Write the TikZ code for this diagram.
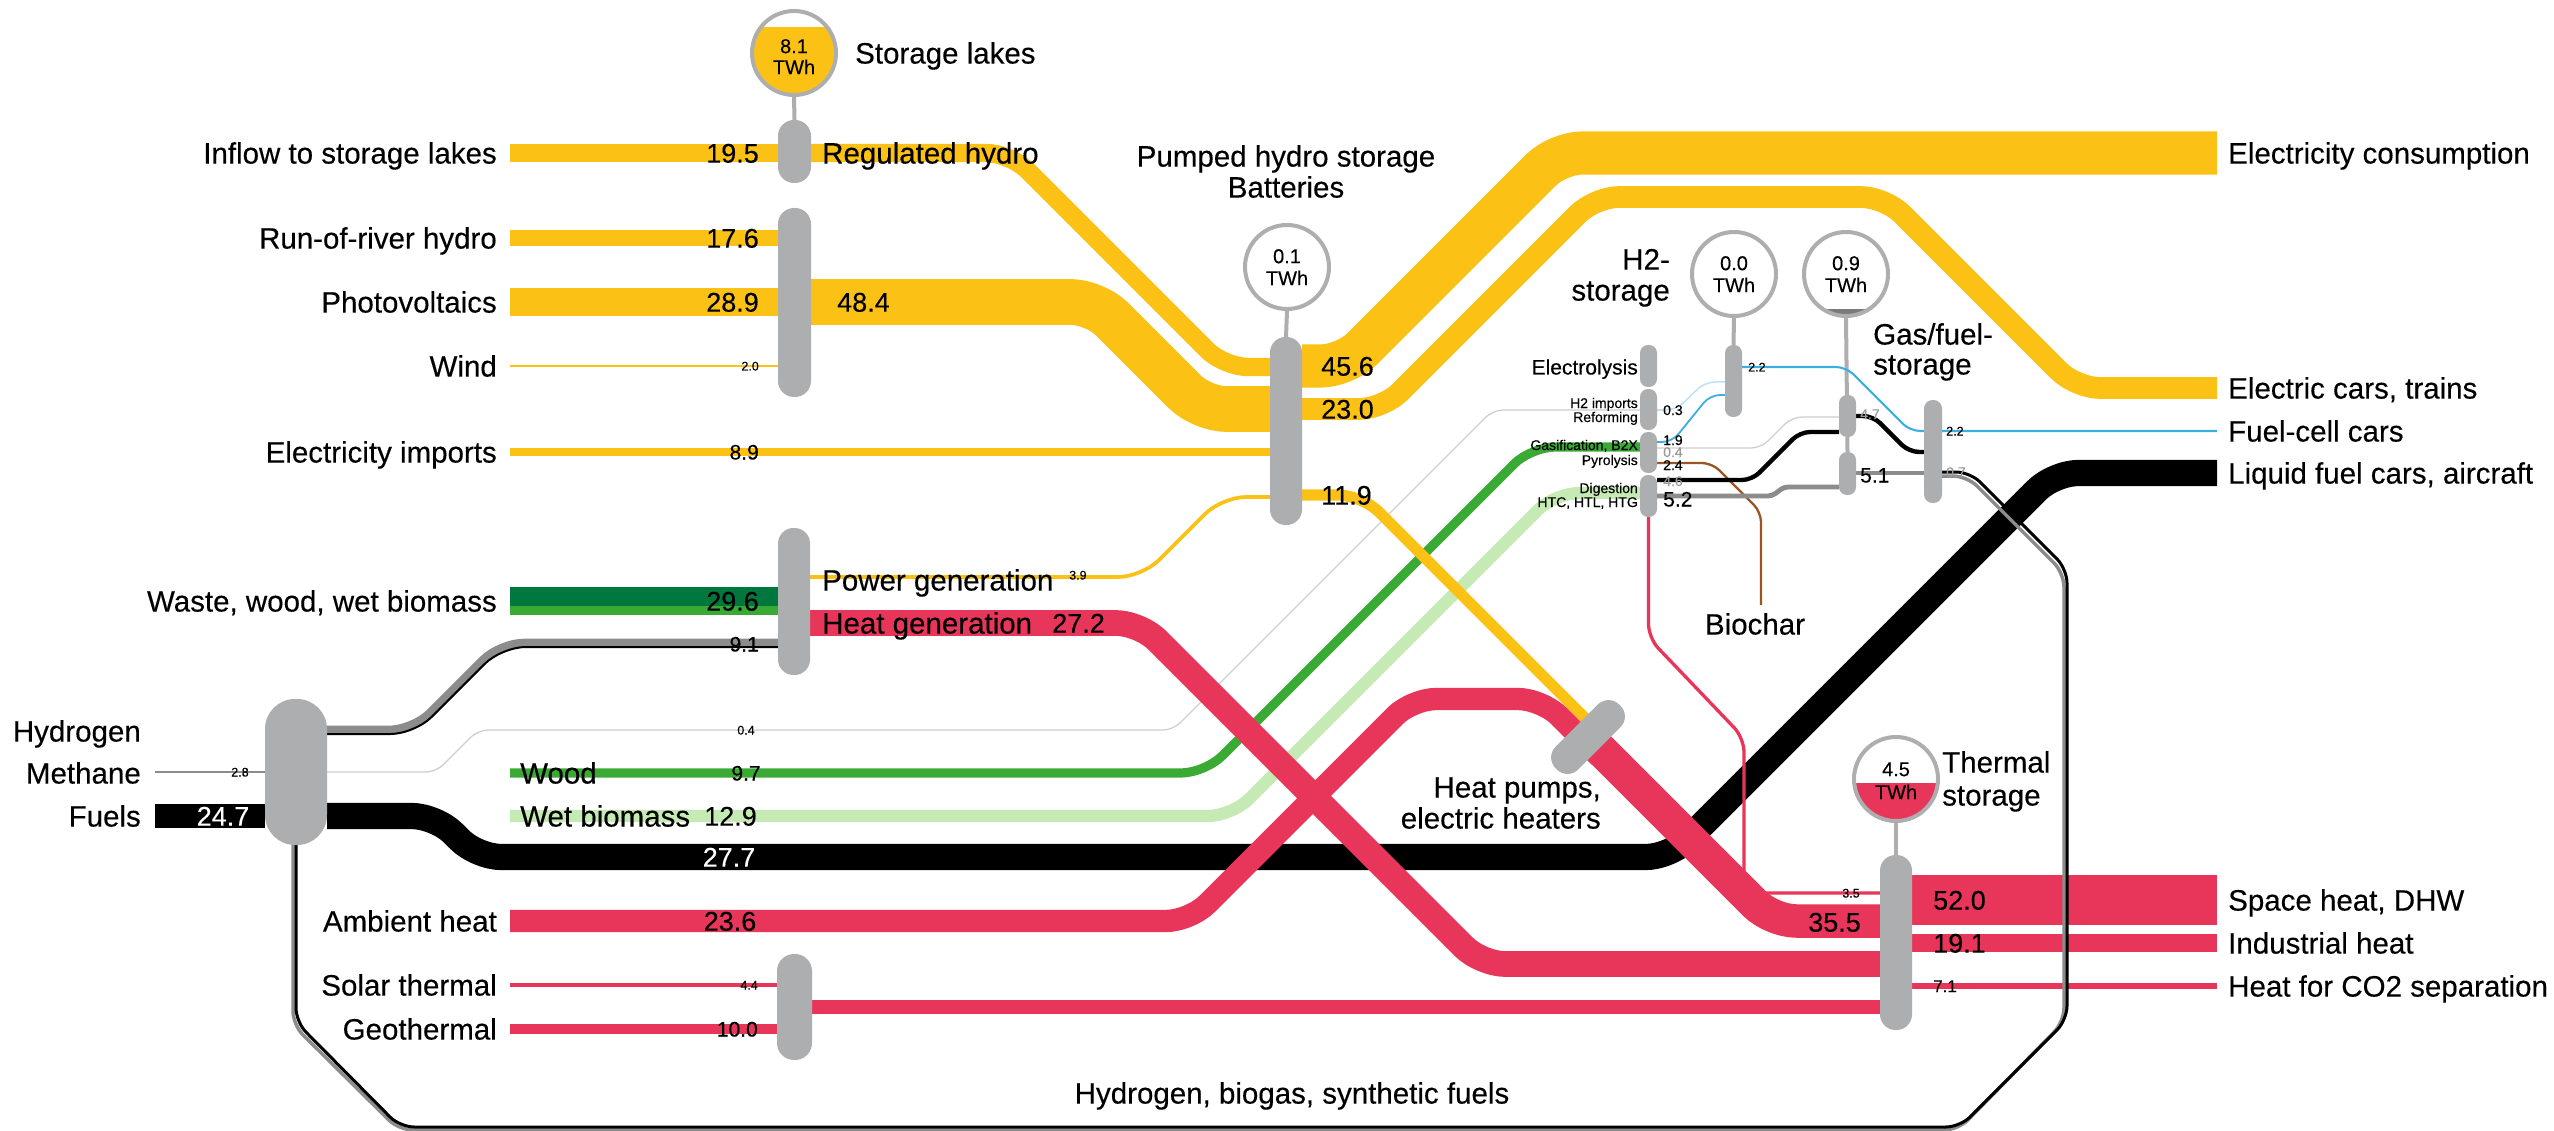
\documentclass[tikz,border=0pt]{standalone}
\usepackage{fontspec}
\setmainfont{Liberation Sans}[FakeBold=0.3]
\definecolor{cyel}{HTML}{FBC115}
\definecolor{cred}{HTML}{E8365A}
\definecolor{cgray}{HTML}{ADAEB0}
\definecolor{cgreen}{HTML}{3BAA35}
\definecolor{cdgreen}{HTML}{00773C}
\definecolor{clgreen}{HTML}{C6EAB3}
\definecolor{cblue}{HTML}{3DAEE0}
\definecolor{clblue}{HTML}{BCE2F4}
\definecolor{cbrown}{HTML}{9B5523}
\definecolor{cband}{HTML}{8C8C8C}
\definecolor{clgray}{HTML}{CFCFCF}
\definecolor{ctxtg}{HTML}{9A9A9A}
\definecolor{cdark}{HTML}{7A7A7A}
\pgfdeclarelayer{bg}
\pgfsetlayers{bg,main}
\tikzset{
  lab/.style={font=\fontsize{29.5}{32}\selectfont, inner sep=0pt, text height=21.1pt, text depth=0pt},
  num/.style={font=\fontsize{27}{30}\selectfont, inner sep=0pt, text height=19.3pt, text depth=0pt},
  mid/.style={font=\fontsize{21}{23}\selectfont, inner sep=0pt, text height=15pt, text depth=0pt},
  mtwo/.style={font=\fontsize{17}{19}\selectfont, inner sep=0pt, text height=12.2pt, text depth=0pt},
  sml/.style={font=\fontsize{14}{15}\selectfont, inner sep=0pt, text height=10pt, text depth=0pt},
  tny/.style={font=\fontsize{12.5}{13}\selectfont, inner sep=0pt, text height=9pt, text depth=0pt},
  ctx/.style={font=\fontsize{20}{21}\selectfont, inner sep=0pt, text height=14.3pt, text depth=0pt},
  fl/.style={line cap=butt, line join=round, rounded corners=24pt},
  fls/.style={line cap=butt, line join=round, rounded corners=10pt},
  barnode/.style={rectangle, fill=cgray, draw=none, inner sep=0pt, outer sep=0pt, rounded corners=#1},
  barnode/.default=8pt,
  storecirc/.style={circle, minimum size=84pt, inner sep=0pt, outer sep=2pt, fill=white},
  stem/.style={cgray, line width=4pt},
}
\begin{document}
\begin{tikzpicture}[x=1pt,y=-1pt]
\useasboundingbox (0,0) rectangle (2554,1131);

% ---------- process nodes ----------
\node[barnode=16pt, minimum width=33pt, minimum height=63pt] (reg) at (794.5,151.5) {};
\node[barnode=16pt, minimum width=33pt, minimum height=189pt] (gen) at (794.5,302.5) {};
\node[barnode=15.5pt, minimum width=32pt, minimum height=188pt] (phs) at (1286,431) {};
\node[barnode=15.5pt, minimum width=32pt, minimum height=147pt] (bio) at (794,601.5) {};
\node[barnode=30pt, minimum width=62pt, minimum height=146pt] (hyd) at (296,772) {};
\node[barnode=17pt, minimum width=35pt, minimum height=106pt] (sol) at (794.5,1007) {};
\node[barnode=15pt, minimum width=90pt, minimum height=32pt, rotate=45] (hp) at (1588,737) {};
\node[barnode=8pt, minimum width=17pt, minimum height=42pt] (elec) at (1648.5,366) {};
\node[barnode=8pt, minimum width=17pt, minimum height=41pt] (h2imp) at (1648.5,409.5) {};
\node[barnode=8pt, minimum width=17pt, minimum height=41pt] (gasif) at (1648.5,452.5) {};
\node[barnode=8pt, minimum width=17pt, minimum height=42pt] (dig) at (1648.5,496) {};
\node[barnode=8pt, minimum width=17pt, minimum height=72pt] (h2st) at (1733.5,381) {};
\node[barnode=8pt, minimum width=17pt, minimum height=42pt] (gasU) at (1847.5,416) {};
\node[barnode=8pt, minimum width=17pt, minimum height=43pt] (gasL) at (1847.5,473.5) {};
\node[barnode=8.5pt, minimum width=18pt, minimum height=103pt] (fuelN) at (1933,451.5) {};
\node[barnode=15.5pt, minimum width=32pt, minimum height=175pt] (therm) at (1896,942.5) {};

% ---------- storage circles ----------
\node[storecirc] (cl) at (794,53) {};
\begin{scope}\clip (cl.center) circle[radius=42pt]; \fill[cyel] (740,27) rectangle (850,100);\end{scope}
\draw[cgray, line width=4pt] (cl.center) circle[radius=42pt];
\node[storecirc] (cphs) at (1287,267) {};
\draw[cgray, line width=4pt] (cphs.center) circle[radius=42pt];
\node[storecirc] (ch2) at (1734,274) {};
\draw[cgray, line width=4pt] (ch2.center) circle[radius=42pt];
\node[storecirc] (cgas) at (1846,274) {};
\begin{scope}\clip (cgas.center) circle[radius=42pt]; \fill[cdark] (1800,309) rectangle (1900,320);\end{scope}
\draw[cgray, line width=4pt] (cgas.center) circle[radius=42pt];
\node[storecirc] (cth) at (1896,779) {};
\begin{scope}\clip (cth.center) circle[radius=42pt]; \fill[cred] (1850,783) rectangle (1950,830);\end{scope}
\draw[cgray, line width=4pt] (cth.center) circle[radius=42pt];

\begin{pgfonlayer}{bg}
\fill[white] (0,0) rectangle (2554,1131);
% stems
\draw[stem] (cl.south) -- (reg.north);
\draw[stem] (cphs.south) -- (phs.north);
\draw[stem] (ch2.south) -- (h2st.north);
\draw[stem] (cgas.south) -- (gasL.north);
\draw[stem] (cth.south) -- (therm.north);
% 0.4 light line
\draw[fls, clgray, line width=1.3pt] (hyd.east|-0,772) -- (436,772) -- (478,730) -- (1173,730) -- (1493,410) -- (h2imp.west|-0,410);
% fuels (black)
\draw[black, line width=23.3pt] (155,816) -- (hyd.west|-0,816);
\draw[cband, line width=2.6pt] (155,772) -- (hyd.west|-0,772);
\draw[fl, black, line width=26.2pt] (hyd.east|-0,816) -- (436,816) -- (477,857) -- (1670,857) -- (2054,473) -- (2217,473);
% 9.1 grey/black
\draw[fl, cband, line width=8.6pt] (hyd.east|-0,730) -- (413,730) -- (500,643) -- (bio.west|-0,643);
\draw[fl, black, line width=2pt] (hyd.east|-0,734) -- (414.6,734) -- (501.6,647) -- (bio.west|-0,647);
% greens
\draw[cdgreen, line width=19pt] (510,596.5) -- (bio.west|-0,596.5);
\draw[cgreen, line width=9pt] (510,610.5) -- (bio.west|-0,610.5);
\draw[fl, cgreen, line width=9.2pt] (510,773) -- (1205,773) -- (1531,447) -- (gasif.west|-0,447);
\draw[fl, clgreen, line width=12.2pt] (510,816) -- (1232,816) -- (1555,493) -- (dig.west|-0,493);
% yellows
\draw[cyel, line width=18.4pt] (510,153) -- (reg.west|-0,153);
\draw[fl, cyel, line width=18.4pt] (reg.east|-0,153) -- (1010,153) -- (1224,367) -- (phs.west|-0,367);
\draw[cyel, line width=16.6pt] (510,238) -- (gen.west|-0,238);
\draw[cyel, line width=27.3pt] (510,302) -- (gen.west|-0,302);
\draw[cyel, line width=2pt] (510,366) -- (gen.west|-0,366);
\draw[fl, cyel, line width=45.7pt] (gen.east|-0,302) -- (1095,302) -- (1202,409) -- (phs.west|-0,409);
\draw[cyel, line width=8.4pt] (510,452) -- (phs.west|-0,452);
\draw[fl, cyel, line width=3.7pt] (bio.east|-0,577) -- (1142,577) -- (1222,497) -- (phs.west|-0,497);
\draw[fl, cyel, line width=43.1pt] (phs.east|-0,366) -- (1345,366) -- (1558,153) -- (2217,153);
\draw[fl, cyel, line width=21.7pt] (phs.east|-0,409) -- (1383,409) -- (1595,197) -- (1885,197) -- (2076,388) -- (2217,388);
\draw[fl, cyel, line width=11.2pt] (phs.east|-0,495) -- (1362,495) -- (1600,733);
% reds
\draw[fl, cred, line width=25.7pt] (bio.east|-0,623) -- (1140,623) -- (1481,964) -- (therm.west|-0,964);
\draw[fl, cred, line width=22.3pt] (510,921) -- (1190,921) -- (1412,699) -- (1542,699) -- (1600,757);
\draw[fl, cred, line width=33.5pt] (hp.center) -- (1772,921) -- (therm.west|-0,921);
\draw[cred, line width=4.2pt] (510,985) -- (sol.west|-0,985);
\draw[cred, line width=9.5pt] (510,1029) -- (sol.west|-0,1029);
\draw[cred, line width=13.6pt] (sol.east|-0,1007) -- (therm.west|-0,1007);
\draw[cred, line width=49.1pt] (therm.east|-0,900) -- (2217,900);
\draw[cred, line width=18pt] (therm.east|-0,943) -- (2217,943);
\draw[cred, line width=6.7pt] (therm.east|-0,986) -- (2217,986);
\draw[cred, line width=3.3pt, rounded corners=14pt] (dig.south) -- (1648.5,638) -- (1744,738) -- (1744,893) -- (therm.west|-0,893);
% loop: hydrogen, biogas, synthetic fuels
\draw[cband, line width=3.5pt, rounded corners=14pt] (1942,476) -- (1967,476) -- (2064,573) -- (2064,1022) -- (1958,1130) -- (399,1130) -- (293,1025) -- (293,845);
\draw[black, line width=3pt, rounded corners=14pt] (fuelN.east|-0,472) -- (1970,472) -- (2067,569) -- (2067,1020) -- (1960,1127) -- (400,1127) -- (296,1022) -- (hyd.south);
% small conversion lines
\draw[fls, cblue, line width=1.8pt] (gasif.east|-0,442) -- (1672,442) -- (1710,395) -- (h2st.west|-0,395);
\draw[fls, clblue, line width=1.5pt] (h2imp.east|-0,410) -- (1676,410) -- (1705,382) -- (h2st.west|-0,382);
\draw[fls, cblue, line width=2.1pt] (h2st.east|-0,367) -- (1846,367) -- (1910,431) -- (2217,431);
\draw[fls, clgray, line width=1.3pt] (gasif.east|-0,448) -- (1761,448) -- (1792,417) -- (gasU.west|-0,417);
\draw[fls, cbrown, line width=2.3pt] (gasif.east|-0,463) -- (1712,463) -- (1761,512) -- (1761,605);
\draw[fls, black, line width=4.3pt] (dig.east|-0,480) -- (1752,480) -- (1800,432) -- (gasU.west|-0,432);
\draw[cband, line width=4.9pt, line join=round, rounded corners=4pt] (dig.east|-0,496) -- (1772,496) -- (1784,487) -- (gasL.west|-0,487);
\draw[fls, black, line width=4.4pt] (gasU.east|-0,416) -- (1873,416) -- (1909,452) -- (fuelN.west|-0,452);
\draw[cband, line width=4.8pt] (gasL.east|-0,473) -- (fuelN.west|-0,473);
\end{pgfonlayer}

% ---------- circle texts ----------
\node[ctx] (c1a) at (794,46) {8.1};
\node[ctx] (c1b) at (794,67) {TWh};
\node[ctx] (c2a) at (1287,256) {0.1};
\node[ctx] (c2b) at (1287,278) {TWh};
\node[ctx] (c3a) at (1734,263) {0.0};
\node[ctx] (c3b) at (1734,285) {TWh};
\node[ctx] (c4a) at (1846,263) {0.9};
\node[ctx] (c4b) at (1846,285) {TWh};
\node[ctx] (c5a) at (1896,769) {4.5};
\node[ctx] (c5b) at (1896,792) {TWh};

% ---------- left labels ----------
\node[lab, anchor=east] (l1) at (497,153) {Inflow to storage lakes};
\node[lab, anchor=east] (l2) at (497,238) {Run-of-river hydro};
\node[lab, anchor=east] (l3) at (497,302) {Photovoltaics};
\node[lab, anchor=east] (l4) at (497,366) {Wind};
\node[lab, anchor=east] (l5) at (497,452) {Electricity imports};
\node[lab, anchor=east] (l6) at (497,601) {Waste, wood, wet biomass};
\node[lab, anchor=east] (l7) at (141,731) {Hydrogen};
\node[lab, anchor=east] (l8) at (141,773) {Methane};
\node[lab, anchor=east] (l9) at (141,816) {Fuels};
\node[lab, anchor=east] (l10) at (497,921) {Ambient heat};
\node[lab, anchor=east] (l11) at (497,985) {Solar thermal};
\node[lab, anchor=east] (l12) at (497,1029) {Geothermal};

% ---------- numbers left ----------
\node[num, anchor=east] (n1) at (759,153) {19.5};
\node[num, anchor=east] (n2) at (759,238) {17.6};
\node[num, anchor=east] (n3) at (759,302) {28.9};
\node[tny, anchor=east] (n4) at (759,366) {2.0};
\node[mid, anchor=east] (n5) at (759,452) {8.9};
\node[num, anchor=east] (n6) at (759,601) {29.6};
\node[mid, anchor=east] (n7) at (759,644) {9.1};
\node[tny] (n8) at (746,730) {0.4};
\node[tny] (n9) at (240,772) {2.8};
\node[num, text=white] (n10) at (223,816) {24.7};
\node[lab, anchor=west] (l13) at (520,773) {Wood};
\node[mid] (n11) at (746,773) {9.7};
\node[lab, anchor=west] (l14) at (520,816) {Wet biomass};
\node[num, anchor=east] (n12) at (757,816) {12.9};
\node[num, text=white] (n13) at (729,857) {27.7};
\node[num] (n14) at (730,921) {23.6};
\node[tny, anchor=east] (n15) at (758,985) {4.4};
\node[mid, anchor=east] (n16) at (758,1029) {10.0};

% ---------- middle labels ----------
\node[lab, anchor=west] (l15) at (855,53) {Storage lakes};
\node[lab, anchor=west] (l16) at (822,153) {Regulated hydro};
\node[num, anchor=west] (n17) at (837,302) {48.4};
\node[lab, anchor=west] (l17) at (822,580) {Power generation};
\node[tny, anchor=west] (n18) at (1069,575) {3.9};
\node[lab, anchor=west] (l18) at (822,623) {Heat generation};
\node[num, anchor=west] (n19) at (1052,623) {27.2};
\node[lab] (l19) at (1286,156) {Pumped hydro storage};
\node[lab] (l20) at (1286,187) {Batteries};
\node[num, anchor=west] (n20) at (1321,366) {45.6};
\node[num, anchor=west] (n21) at (1321,409) {23.0};
\node[num, anchor=west] (n22) at (1321,495) {11.9};
\node[lab, anchor=east] (l21) at (1601,787) {Heat pumps,};
\node[lab, anchor=east] (l22) at (1601,818) {electric heaters};
\node[lab] (l23) at (1292,1093) {Hydrogen, biogas, synthetic fuels};
\node[lab] (l24) at (1755,624) {Biochar};

% ---------- conversion area ----------
\node[lab, anchor=east] (l25) at (1670,259) {H2-};
\node[lab, anchor=east] (l26) at (1670,290) {storage};
\node[lab, anchor=west] (l27) at (1873,334) {Gas/fuel-};
\node[lab, anchor=west] (l28) at (1873,364) {storage};
\node[mid, anchor=east] (l29) at (1638,367) {Electrolysis};
\node[sml, anchor=east] (l30) at (1638,403) {H2 imports};
\node[sml, anchor=east] (l31) at (1638,417) {Reforming};
\node[sml, anchor=east] (l32) at (1638,445) {Gasification, B2X};
\node[sml, anchor=east] (l33) at (1638,460) {Pyrolysis};
\node[sml, anchor=east] (l34) at (1638,488) {Digestion};
\node[sml, anchor=east] (l35) at (1638,502) {HTC, HTL, HTG};
\node[tny, anchor=west] (n23) at (1748,367) {2.2};
\node[sml, anchor=west] (n24) at (1663,410) {0.3};
\node[sml, anchor=west] (n25) at (1663,440) {1.9};
\node[sml, anchor=west, text=ctxtg] (n26) at (1663,452) {0.4};
\node[sml, anchor=west] (n27) at (1663,465) {2.4};
\node[sml, anchor=west, text=ctxtg] (n28) at (1663,481) {4.6};
\node[mid, anchor=west] (n29) at (1663,499) {5.2};
\node[sml, anchor=west, text=ctxtg] (n30) at (1860,414) {4.7};
\node[mid, anchor=west] (n31) at (1860,475) {5.1};
\node[tny, anchor=west] (n32) at (1946,431) {2.2};
\node[sml, anchor=west, text=ctxtg] (n33) at (1946,472) {0.7};

% ---------- thermal ----------
\node[lab, anchor=west] (l36) at (1942,762) {Thermal};
\node[lab, anchor=west] (l37) at (1942,795) {storage};
\node[tny] (n34) at (1851,893) {3.5};
\node[num, anchor=east] (n35) at (1861,922) {35.5};
\node[num, anchor=west] (n36) at (1933,900) {52.0};
\node[num, anchor=west] (n37) at (1933,943) {19.1};
\node[mtwo, anchor=west] (n38) at (1933,986) {7.1};

% ---------- right labels ----------
\node[lab, anchor=west] (r1) at (2228,153) {Electricity consumption};
\node[lab, anchor=west] (r2) at (2228,388) {Electric cars, trains};
\node[lab, anchor=west] (r3) at (2228,431) {Fuel-cell cars};
\node[lab, anchor=west] (r4) at (2228,473) {Liquid fuel cars, aircraft};
\node[lab, anchor=west] (r5) at (2228,900) {Space heat, DHW};
\node[lab, anchor=west] (r6) at (2228,943) {Industrial heat};
\node[lab, anchor=west] (r7) at (2228,986) {Heat for CO2 separation};
\end{tikzpicture}
\end{document}
